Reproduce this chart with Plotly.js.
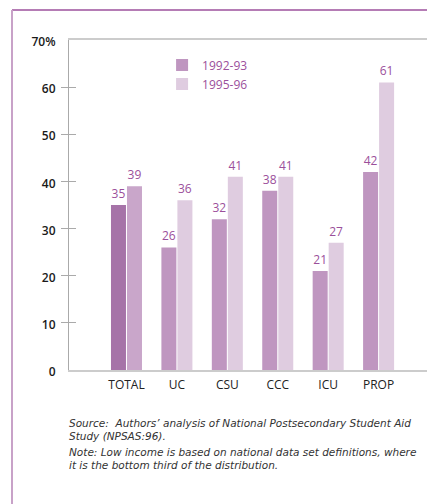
<!DOCTYPE html>
<html>
<head>
<meta charset="utf-8">
<script src="https://cdn.plot.ly/plotly-3.0.1.min.js"></script>
<style>html,body{margin:0;padding:0;background:#fff;overflow:hidden;}#chart{width:427px;height:504px;}</style>
</head>
<body>
<div id="chart"></div>
<script>
const categories = ['TOTAL', 'UC', 'CSU', 'CCC', 'ICU', 'PROP'];
const series1Name = '1992-93';
const series2Name = '1995-96';
const values1 = [35, 26, 32, 38, 21, 42];
const values2 = [39, 36, 41, 41, 27, 61];
const yTickVals = [0, 10, 20, 30, 40, 50, 60, 70];
const yTickText = ['0', '10', '20', '30', '40', '50', '60', '70%'];
const footerLines = [
  'Source:&nbsp; Authors’ analysis of National Postsecondary Student Aid',
  'Study (NPSAS:96).',
  'Note: Low income is based on national data set definitions, where',
  'it is the bottom third of the distribution.'
];

const base1 = '#bf96c0', base2 = '#dfcce0';
const c1 = categories.map((c, i) => i === 0 ? '#a673a8' : base1);
const c2 = categories.map((c, i) => i === 0 ? '#c9a6ca' : base2);
const labelColor = '#9b4f9b';
const fontFam = '"Open Sans", "Noto Sans", sans-serif';

const traces = [
  {type: 'bar', x: categories, y: values1, name: series1Name, showlegend: false,
   marker: {color: c1}, text: values1.map(String), textposition: 'outside',
   textfont: {color: labelColor, size: 12, family: fontFam}, cliponaxis: false, hoverinfo: 'none'},
  {type: 'bar', x: categories, y: values2, name: series2Name, showlegend: false,
   marker: {color: c2}, text: values2.map(String), textposition: 'outside',
   textfont: {color: labelColor, size: 12, family: fontFam}, cliponaxis: false, hoverinfo: 'none'},
  // legend entries (base colour of each series)
  {type: 'bar', x: [categories[0]], y: [null], name: series1Name, xaxis: 'x2', yaxis: 'y2', marker: {color: base1}, hoverinfo: 'none'},
  {type: 'bar', x: [categories[0]], y: [null], name: series2Name, xaxis: 'x2', yaxis: 'y2', marker: {color: base2}, hoverinfo: 'none'},
  // tick marks crossing the y axis
  {type: 'scatter', x: [categories[0]], y: [null], yaxis: 'y3', showlegend: false, hoverinfo: 'none'},
  {type: 'scatter', x: [categories[0]], y: [null], yaxis: 'y4', showlegend: false, hoverinfo: 'none'}
];

const footerY = [423, 436, 452, 465];
const annotations = footerLines.map((t, i) => ({
  xref: 'paper', yref: 'paper', x: -2 / 358, y: (370 - footerY[i]) / 330,
  xanchor: 'left', yanchor: 'middle', align: 'left', showarrow: false,
  text: '<i>' + t + '</i>', font: {family: '"DejaVu Sans", sans-serif', size: 10.5, color: '#333'}
}));

const layout = {
  width: 427, height: 504,
  margin: {l: 69, r: 0, t: 40, b: 134, pad: 0},
  paper_bgcolor: '#fff', plot_bgcolor: '#fff',
  font: {family: fontFam, color: '#222'},
  barmode: 'group', bargap: 0.365, bargroupgap: 0.0625,
  showlegend: true,
  legend: {x: 0.26, y: 0.968, xanchor: 'left', yanchor: 'top', bgcolor: 'rgba(0,0,0,0)',
           font: {color: labelColor, size: 12, family: fontFam}, traceorder: 'normal', itemclick: false},
  xaxis: {type: 'category', range: [-1.14, 5.96], showgrid: false, zeroline: false,
          showline: true, linecolor: '#cccccc', linewidth: 2, mirror: true,
          ticks: '', tickfont: {size: 12, color: '#222', family: fontFam}, ticklabelstandoff: 3},
  xaxis2: {overlaying: 'x', visible: false, range: [0, 1]},
  yaxis: {range: [0, 70], tickvals: yTickVals, ticktext: yTickText, showgrid: false, zeroline: false,
          showline: true, linecolor: '#aaaaaa', linewidth: 1, ticks: '',
          ticklabelstandoff: 10, ticklabelshift: 2,
          tickfont: {size: 12, color: '#1a1a1a', family: fontFam, weight: 600}},
  yaxis2: {overlaying: 'y', visible: false, range: [0, 1]},
  yaxis3: {overlaying: 'y', range: [0, 70], tickvals: yTickVals.slice(1, 7), showticklabels: false,
           ticks: 'inside', ticklen: 7, tickcolor: '#aaaaaa', tickwidth: 1, showgrid: false, zeroline: false, showline: false},
  yaxis4: {overlaying: 'y', range: [0, 70], tickvals: yTickVals.slice(1, 7), showticklabels: false,
           ticks: 'outside', ticklen: 7, tickcolor: '#aaaaaa', tickwidth: 1, showgrid: false, zeroline: false, showline: false},
  shapes: [
    {type: 'line', xref: 'paper', yref: 'paper', x0: -57/358, x1: 1.2, y0: 1 + 30/330, y1: 1 + 30/330,
     line: {color: '#9c509c', width: 1.5}},
    {type: 'line', xref: 'paper', yref: 'paper', x0: -57/358, x1: -57/358, y0: 1 + 30/330, y1: -0.5,
     line: {color: '#c8a2c8', width: 2}}
  ],
  annotations: annotations
};

Plotly.newPlot('chart', traces, layout, {displayModeBar: false, staticPlot: true});
</script>
</body>
</html>
